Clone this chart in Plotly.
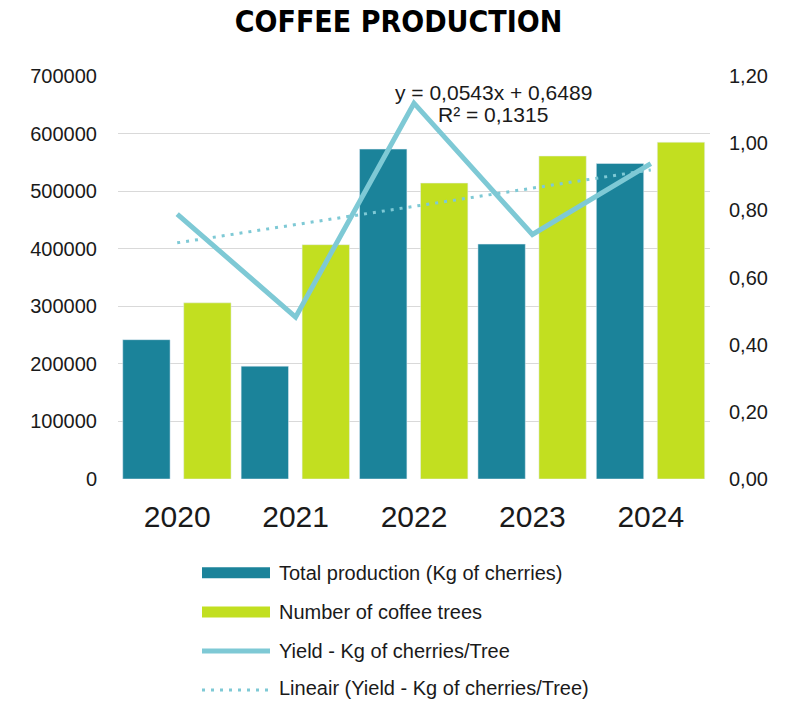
import plotly.graph_objects as go

years = ["2020", "2021", "2022", "2023", "2024"]
total_production = [242000, 196000, 573000, 408000, 548000]
coffee_trees = [306000, 407000, 514000, 561000, 585000]
yield_per_tree = [0.789, 0.482, 1.119, 0.728, 0.939]
trend_slope = 0.0543
trend_intercept = 0.6489
left_ticks = [0, 100000, 200000, 300000, 400000, 500000, 600000, 700000]
left_labels = ["0", "100000", "200000", "300000", "400000", "500000", "600000", "700000"]
right_ticks = [0, 0.2, 0.4, 0.6, 0.8, 1.0, 1.2]
right_labels = ["0,00", "0,20", "0,40", "0,60", "0,80", "1,00", "1,20"]
legend_names = ["Total production (Kg of cherries)", "Number of coffee trees",
                "Yield - Kg of cherries/Tree", "Lineair (Yield - Kg of cherries/Tree)"]

TEAL = "#1B839A"
GREEN = "#C2DF20"
LIGHT = "#7EC9D5"
W, H = 797, 701
L, R, T, B = 118, 710, 76, 479

def px(x):
    return (x - L) / (R - L)

def py(y):
    return (B - y) / (B - T)

trend = [trend_intercept + trend_slope * (i + 1) for i in range(len(years))]

fig = go.Figure()
fig.add_trace(go.Bar(x=years, y=total_production, marker_color=TEAL, width=0.4, offset=-0.46,
                     name=legend_names[0], showlegend=False))
fig.add_trace(go.Bar(x=years, y=coffee_trees, marker_color=GREEN, width=0.4, offset=0.055,
                     name=legend_names[1], showlegend=False))
fig.add_trace(go.Scatter(x=years, y=yield_per_tree, mode="lines", yaxis="y2",
                         line=dict(color=LIGHT, width=5), name=legend_names[2], showlegend=False))
fig.add_trace(go.Scatter(x=years, y=trend, mode="lines", yaxis="y2",
                         line=dict(color=LIGHT, width=3, dash="3px,6px"), name=legend_names[3],
                         showlegend=False))

font = "Liberation Sans, Arial, sans-serif"
fig.update_layout(
    width=W, height=H,
    margin=dict(l=L, r=W - R, t=T, b=H - B),
    paper_bgcolor="white", plot_bgcolor="white",
    barmode="overlay",
    showlegend=False,
    title=dict(text="COFFEE PRODUCTION", x=0.5, xanchor="center", y=1 - 21 / H, yanchor="middle",
               font=dict(family="DejaVu Sans Condensed", size=30, color="black", weight="bold")),
    xaxis=dict(range=[-0.5, 4.5], showgrid=False, showline=False, ticks="",
               tickfont=dict(family=font, size=30, color="#1a1a1a"), ticklabelstandoff=17),
    yaxis=dict(range=[0, 700000], tickvals=left_ticks, ticktext=left_labels, showgrid=True,
               gridcolor="#D9D9D9", gridwidth=1, zeroline=False, showline=False, ticks="",
               tickfont=dict(family=font, size=20, color="#1a1a1a"), ticklabelstandoff=20),
    yaxis2=dict(range=[0, 1.2], tickvals=right_ticks, ticktext=right_labels, overlaying="y",
                side="right", showgrid=False, zeroline=False, showline=False, ticks="",
                tickfont=dict(family=font, size=20, color="#1a1a1a"), ticklabelstandoff=18),
)

fig.add_annotation(text="y = 0,0543x + 0,6489", xref="paper", yref="paper",
                   x=px(493), y=py(92), xanchor="center", yanchor="middle", showarrow=False,
                   font=dict(family=font, size=21, color="#1a1a1a"))
fig.add_annotation(text="R² = 0,1315", xref="paper", yref="paper",
                   x=px(493), y=py(114), xanchor="center", yanchor="middle", showarrow=False,
                   font=dict(family=font, size=21, color="#1a1a1a"))

# custom legend
rows = [572.7, 612, 651, 688]
sx0, sx1, tx = 202, 270, 277
fig.add_shape(type="rect", xref="paper", yref="paper", x0=px(sx0), x1=px(sx1),
              y0=py(rows[0] - 5.5), y1=py(rows[0] + 5.5), fillcolor=TEAL, line_width=0)
fig.add_shape(type="rect", xref="paper", yref="paper", x0=px(sx0), x1=px(sx1),
              y0=py(rows[1] - 5.5), y1=py(rows[1] + 5.5), fillcolor=GREEN, line_width=0)
fig.add_shape(type="line", xref="paper", yref="paper", x0=px(sx0), x1=px(sx1),
              y0=py(rows[2]), y1=py(rows[2]), line=dict(color=LIGHT, width=5))
fig.add_shape(type="line", xref="paper", yref="paper", x0=px(sx0), x1=px(sx1),
              y0=py(rows[3] + 2), y1=py(rows[3] + 2), line=dict(color=LIGHT, width=3, dash="3px,6px"))
for name, ry in zip(legend_names, rows):
    fig.add_annotation(text=name, xref="paper", yref="paper", x=px(tx), y=py(ry),
                       xanchor="left", yanchor="middle", showarrow=False,
                       font=dict(family=font, size=20, color="#1a1a1a"))

fig.write_html("out.html")
